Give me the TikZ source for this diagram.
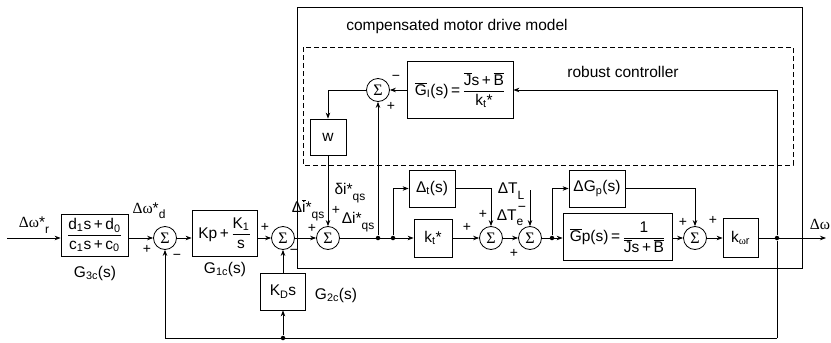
\documentclass[tikz,border=0pt]{standalone}
\usepackage{fontspec}
\setmainfont{Liberation Sans}
\newfontfamily\seriff{Liberation Serif}
\usetikzlibrary{arrows.meta}
\newcommand{\sbx}[1]{\raisebox{-0.35em}{\fontsize{12}{13}\selectfont #1}}
\newcommand{\ovb}[1]{$\overline{\mbox{#1}}$}
\newcommand{\fr}[2]{$\displaystyle\frac{\mbox{#1}}{\mbox{#2}}$}
\tikzset{
  blk/.style={draw, inner sep=1pt, font=\fontsize{15.5}{17}\selectfont},
  sumn/.style={draw, circle, minimum size=23pt, inner sep=0pt, font=\seriff\fontsize{16}{17}\selectfont},
  lbl/.style={inner sep=0pt, font=\fontsize{15.5}{17}\selectfont},
  sgn/.style={inner sep=0pt, font=\fontsize{14}{15}\selectfont},
  jdot/.style={circle, fill, inner sep=0pt, minimum size=4.5pt},
  arr/.style={-{Stealth[length=6pt,width=4.5pt]}},
}
\begin{document}
\begin{tikzpicture}[x=1pt,y=-1pt,line width=0.8pt]
\useasboundingbox (0,0) rectangle (831,343);
% frames
\draw (297,7) rectangle (802,268);
\draw[dash pattern=on 5pt off 3pt] (303,47) rectangle (793,165);
\node[lbl] (ttl) at (457,26) {compensated motor drive model};
\node[lbl] (rc) at (623,72) {robust controller};
% blocks
\node[blk, minimum width=67pt, minimum height=42pt] (g3c) at (94.5,235)
  {\fr{d\textsubscript{1}s\,+\,d\textsubscript{0}}{c\textsubscript{1}s\,+\,c\textsubscript{0}}};
\node[blk, minimum width=65pt, minimum height=46pt] (g1c) at (224.5,233)
  {Kp\,+\,\fr{K\textsubscript{1}}{s}};
\node[blk, minimum width=45pt, minimum height=37pt] (kd) at (283,291.5) {K\textsubscript{D}s};
\node[blk, minimum width=36pt, minimum height=36pt] (w) at (328,137) {w};
\node[blk, minimum width=106pt, minimum height=57pt] (gi) at (460,90)
  {\ovb{G}\textsubscript{I}(s)\,=\,\fr{\ovb{J}s\,+\,\ovb{B}}{k\textsubscript{t}*}};
\node[blk, minimum width=46pt, minimum height=37pt] (dt) at (432,188.5) {Δ\textsubscript{t}(s)};
\node[blk, minimum width=38pt, minimum height=38pt] (kt) at (433,238) {k\textsubscript{t}*};
\node[blk, minimum width=56pt, minimum height=37pt] (dgp) at (597,188.5) {ΔG\textsubscript{p}(s)};
\node[blk, minimum width=109pt, minimum height=47pt] (gp) at (617.5,237)
  {\ovb{G}p(s)\,=\,\fr{1}{\ovb{J}s\,+\,\ovb{B}}};
\node[blk, minimum width=35pt, minimum height=39pt] (kwr) at (740.5,238) {k\textsubscript{{\seriff ω}r}};
% sums
\node[sumn] (s1) at (165,238) {Σ};
\node[sumn] (s2) at (283,238) {Σ};
\node[sumn] (s3) at (328,238) {Σ};
\node[sumn] (s4) at (491,238) {Σ};
\node[sumn] (s5) at (530,238) {Σ};
\node[sumn] (s6) at (695,238) {Σ};
\node[sumn] (stp) at (378,90) {Σ};
% junctions
\node[jdot] (d1) at (283,338) {};
\node[jdot] (d2) at (378,238) {};
\node[jdot] (d3) at (393,238) {};
\node[jdot] (d4) at (552,238) {};
\node[jdot] (d5) at (777,238) {};
\coordinate (in) at (7,238);
\coordinate (out) at (826,238);
\coordinate (tl) at (530,190);
\coordinate (bl) at (777,338);
% connectors
\draw[arr] (in) -- (in -| g3c.west);
\draw[arr] (s1 -| g3c.east) -- (s1.west);
\draw[arr] (s1.east) -- (s1 -| g1c.west);
\draw[arr] (s2 -| g1c.east) -- (s2.west);
\draw[arr] (s2.east) -- (s3.west);
\draw[arr] (kd.north) -- (s2.south);
\draw[arr] (d1) -- (kd.south);
\draw (d5) -- (bl);
\draw[arr] (bl) -| (s1.south);
\draw[arr] (s3.east) -- (kt.west);
\draw[arr] (d2) -- (stp.south);
\draw[arr] (d3) |- (dt.west);
\draw[arr] (dt.east) -| (s4.north);
\draw[arr] (kt.east) -- (s4.west);
\draw[arr] (s4.east) -- (s5.west);
\draw[arr] (tl) -- (s5.north);
\draw[arr] (s5.east) -- (s5 -| gp.west);
\draw[arr] (d4) |- (dgp.west);
\draw[arr] (dgp.east) -| (s6.north);
\draw[arr] (s6 -| gp.east) -- (s6.west);
\draw[arr] (s6.east) -- (kwr.west);
\draw[arr] (kwr.east) -- (out);
\draw[arr] (d5) |- (gi.east);
\draw[arr] (gi.west) -- (stp.east);
\draw[arr] (stp.west) -| (w.north);
\draw[arr] (w.south) -- (s3.north);
% labels
\node[lbl] (lwr) at (34,225) {{\seriff Δω}*\sbx{r}};
\node[lbl] (lwd) at (149,211) {{\seriff Δω}*\sbx{d}};
\node[lbl] (l3c) at (95,273) {G\textsubscript{3c}(s)};
\node[lbl] (l1c) at (225,269) {G\textsubscript{1c}(s)};
\node[lbl] (l2c) at (336,295) {G\textsubscript{2c}(s)};
\node[lbl] (lib) at (308,210) {Δ\ovb{i}*\sbx{qs}};
\node[lbl] (ldi) at (350,193) {δi*\sbx{qs}};
\node[lbl] (lii) at (358,222) {Δi*\sbx{qs}};
\node[lbl] (ltl) at (511,191) {ΔT\sbx{L}};
\node[lbl] (lte) at (510,218) {ΔT\sbx{e}};
\node[lbl] (lwo) at (820,224) {\seriff Δω};
% signs
\node[sgn] (p1) at (147,249) {+};
\node[sgn] (m1) at (177,257) {−};
\node[sgn] (p2) at (265,227) {+};
\node[sgn] (m2) at (294,252) {−};
\node[sgn] (p3) at (312,228) {+};
\node[sgn] (p3b) at (336,210) {+};
\node[sgn] (m0) at (396,78) {−};
\node[sgn] (p0) at (391,106) {+};
\node[sgn] (p4) at (467,227) {+};
\node[sgn] (p4b) at (483,214) {+};
\node[sgn] (m5) at (522,209) {−};
\node[sgn] (p5) at (514,253) {+};
\node[sgn] (p6) at (683,222) {+};
\node[sgn] (p6b) at (713,220) {+};
\end{tikzpicture}
\end{document}
